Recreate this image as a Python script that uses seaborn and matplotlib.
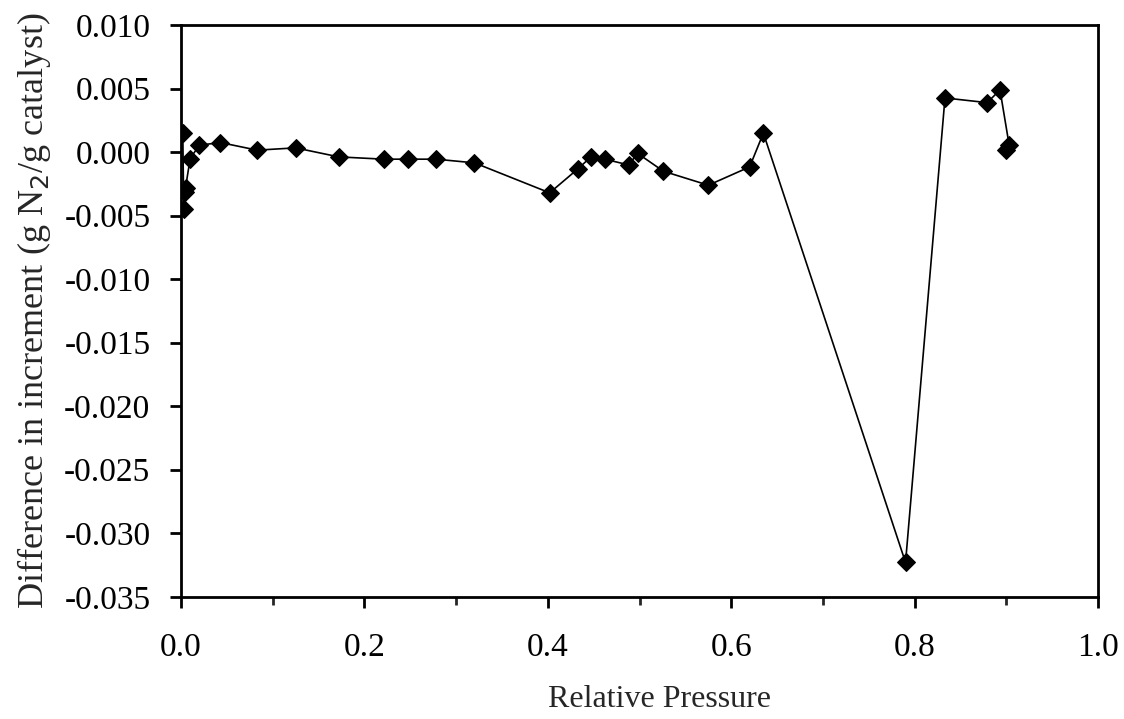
import numpy as np
import matplotlib
matplotlib.use("Agg")
import matplotlib.pyplot as plt
from matplotlib.ticker import FormatStrFormatter, MultipleLocator
import seaborn as sns

# relative pressure and difference in increment
rel_pressure = [0.002, 0.003, 0.004, 0.005, 0.010, 0.020, 0.043, 0.083, 0.125, 0.172,
                0.221, 0.248, 0.278, 0.320, 0.402, 0.433, 0.447, 0.462, 0.488, 0.498,
                0.526, 0.575, 0.620, 0.635, 0.790, 0.833, 0.879, 0.893, 0.903, 0.899]
diff_increment = [0.0015, -0.0045, -0.0031, -0.0028, -0.0005, 0.00055, 0.00076, 0.00016, 0.00034, -0.00037,
                  -0.00055, -0.00055, -0.00055, -0.00084, -0.0032, -0.0013, -0.00037, -0.00055, -0.0010, -0.0001,
                  -0.0015, -0.0026, -0.00116, 0.0015, -0.0323, 0.00427, 0.0039, 0.0049, 0.00055, 0.00016]

sns.set_theme(style="ticks")
plt.rcParams['font.family'] = ['Liberation Serif', 'DejaVu Serif']
plt.rcParams['axes.unicode_minus'] = False

fig = plt.figure(figsize=(11.24, 7.19), dpi=100)
ax = fig.add_axes([0.161, 0.170, 0.816, 0.795])

sns.lineplot(x=rel_pressure, y=diff_increment, sort=False, ax=ax, color='black',
             linewidth=1.2, marker='D', markersize=9, markeredgecolor='black',
             markerfacecolor='black')

ax.set_xlim(0, 1.0)
ax.set_ylim(-0.035, 0.010)
ax.xaxis.set_major_locator(MultipleLocator(0.2))
ax.xaxis.set_minor_locator(MultipleLocator(0.1))
ax.yaxis.set_major_locator(MultipleLocator(0.005))
ax.xaxis.set_major_formatter(FormatStrFormatter('%.1f'))
ax.yaxis.set_major_formatter(FormatStrFormatter('%.3f'))

for s in ax.spines.values():
    s.set_visible(True)
    s.set_color('black')
    s.set_linewidth(2)

ax.tick_params(axis='both', which='major', direction='out', length=8, width=2,
               labelsize=24, colors='black')
ax.tick_params(axis='y', which='major', pad=14)
ax.tick_params(axis='x', which='major', pad=18)
ax.tick_params(axis='x', which='minor', direction='out', length=6, width=2)

ax.set_xlabel('Relative Pressure', fontsize=23)
ax.xaxis.set_label_coords(0.522, -0.155)
ax.set_ylabel('Difference in increment (g N$_2$/g catalyst)', fontsize=26, labelpad=8)

fig.savefig("out.png", dpi=100)
